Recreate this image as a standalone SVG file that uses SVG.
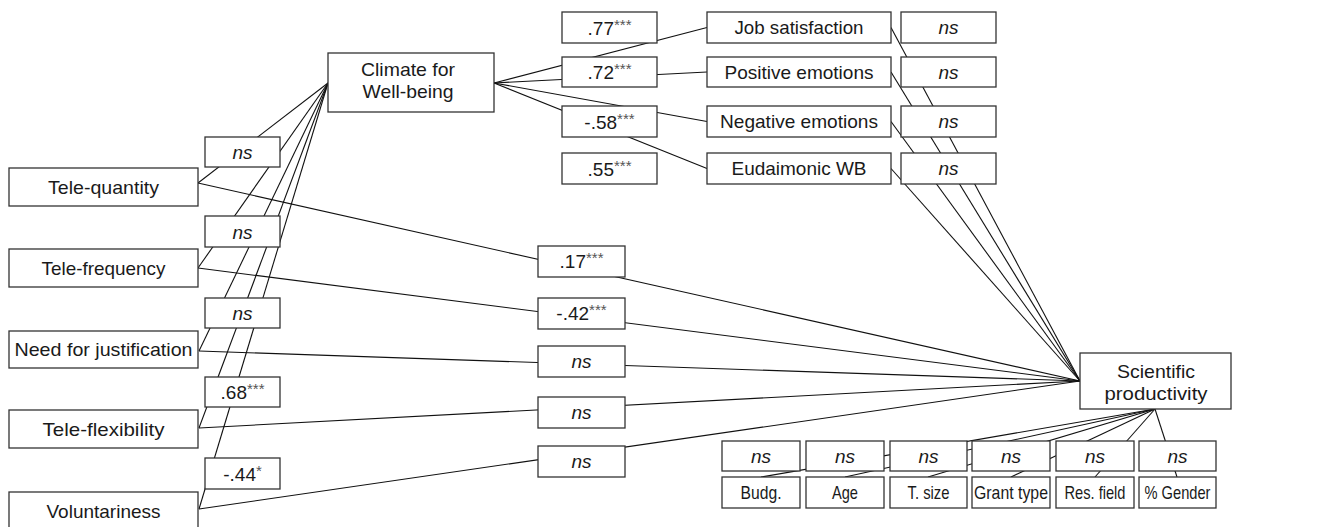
<svg xmlns="http://www.w3.org/2000/svg" width="1338" height="527" viewBox="0 0 1338 527">
<style>
  .box { fill: #fff; stroke: #333; stroke-width: 1.3; }
  .ln { stroke: #111; stroke-width: 1.1; fill: none; }
  text { font-family: "Liberation Sans", Arial, sans-serif; font-size: 19px; fill: #1a1a1a; text-anchor: middle; }
  .ns { font-style: italic; }
  .st { font-size: 15px; fill: #555; }
</style>
<rect width="1338" height="527" fill="#fff"/>
<g id="connectors">
  <line class="ln" x1="328" y1="83" x2="198" y2="183"/>
  <line class="ln" x1="328" y1="83" x2="198" y2="268"/>
  <line class="ln" x1="328" y1="83" x2="199" y2="351"/>
  <line class="ln" x1="328" y1="83" x2="199" y2="428"/>
  <line class="ln" x1="328" y1="83" x2="199" y2="509"/>
  <line class="ln" x1="494" y1="83" x2="707" y2="27.5"/>
  <line class="ln" x1="494" y1="83" x2="707" y2="72"/>
  <line class="ln" x1="494" y1="83" x2="707" y2="121.5"/>
  <line class="ln" x1="494" y1="83" x2="707" y2="168.5"/>
  <line class="ln" x1="891" y1="27.5" x2="1080" y2="381"/>
  <line class="ln" x1="891" y1="72" x2="1080" y2="381"/>
  <line class="ln" x1="891" y1="121.5" x2="1080" y2="381"/>
  <line class="ln" x1="891" y1="168.5" x2="1080" y2="381"/>
  <line class="ln" x1="198" y1="183" x2="1080" y2="381"/>
  <line class="ln" x1="198" y1="268" x2="1080" y2="381"/>
  <line class="ln" x1="199" y1="351" x2="1080" y2="381"/>
  <line class="ln" x1="199" y1="428" x2="1080" y2="381"/>
  <line class="ln" x1="199" y1="509" x2="1080" y2="381"/>
  <line class="ln" x1="1155" y1="409" x2="761" y2="477"/>
  <line class="ln" x1="1155" y1="409" x2="845" y2="477"/>
  <line class="ln" x1="1155" y1="409" x2="928" y2="477"/>
  <line class="ln" x1="1155" y1="409" x2="1011" y2="477"/>
  <line class="ln" x1="1155" y1="409" x2="1095" y2="477"/>
  <line class="ln" x1="1155" y1="409" x2="1177" y2="477"/>
</g>

<g id="n-tele-quantity"><rect class="box" x="9" y="168" width="189" height="38"/><text x="103.5" y="194" textLength="111" lengthAdjust="spacingAndGlyphs">Tele-quantity</text></g>
<g id="n-tele-frequency"><rect class="box" x="9" y="249" width="189" height="38"/><text x="103.5" y="275" textLength="124" lengthAdjust="spacingAndGlyphs">Tele-frequency</text></g>
<g id="n-need-justification"><rect class="box" x="9" y="331" width="189" height="37"/><text x="103.5" y="356" textLength="178" lengthAdjust="spacingAndGlyphs">Need for justification</text></g>
<g id="n-tele-flexibility"><rect class="box" x="9" y="410" width="189" height="38"/><text x="103.5" y="436" textLength="122" lengthAdjust="spacingAndGlyphs">Tele-flexibility</text></g>
<g id="n-voluntariness"><rect class="box" x="9" y="492" width="189" height="38"/><text x="103.5" y="518" textLength="114" lengthAdjust="spacingAndGlyphs">Voluntariness</text></g>

<g id="n-climate"><rect class="box" x="328" y="53" width="166" height="59"/><text x="408" y="76" textLength="94" lengthAdjust="spacingAndGlyphs">Climate for</text><text x="408" y="98" textLength="91" lengthAdjust="spacingAndGlyphs">Well-being</text></g>

<g id="l-ns1"><rect class="box" x="205" y="137" width="75" height="30"/><text class="ns" x="242.5" y="159">ns</text></g>
<g id="l-ns2"><rect class="box" x="205" y="216" width="75" height="31"/><text class="ns" x="242.5" y="239">ns</text></g>
<g id="l-ns3"><rect class="box" x="205" y="298" width="75" height="30"/><text class="ns" x="242.5" y="320">ns</text></g>
<g id="l-68"><rect class="box" x="205" y="377" width="75" height="30"/><text x="242.5" y="399">.68<tspan class="st" dy="-5">***</tspan></text></g>
<g id="l-44"><rect class="box" x="205" y="458" width="75" height="31"/><text x="242.5" y="481">-.44<tspan class="st" dy="-5">*</tspan></text></g>

<g id="l-77"><rect class="box" x="562" y="12" width="95" height="31"/><text x="609.5" y="35">.77<tspan class="st" dy="-5">***</tspan></text></g>
<g id="l-72"><rect class="box" x="562" y="57" width="95" height="30"/><text x="609.5" y="79">.72<tspan class="st" dy="-5">***</tspan></text></g>
<g id="l-58"><rect class="box" x="562" y="106" width="95" height="31"/><text x="609.5" y="129">-.58<tspan class="st" dy="-5">***</tspan></text></g>
<g id="l-55"><rect class="box" x="562" y="153" width="95" height="31"/><text x="609.5" y="176">.55<tspan class="st" dy="-5">***</tspan></text></g>

<g id="n-job"><rect class="box" x="707" y="12" width="184" height="31"/><text x="799" y="34" textLength="129" lengthAdjust="spacingAndGlyphs">Job satisfaction</text></g>
<g id="n-pos"><rect class="box" x="707" y="57" width="184" height="30"/><text x="799" y="79" textLength="149" lengthAdjust="spacingAndGlyphs">Positive emotions</text></g>
<g id="n-neg"><rect class="box" x="707" y="106" width="184" height="31"/><text x="799" y="128" textLength="158" lengthAdjust="spacingAndGlyphs">Negative emotions</text></g>
<g id="n-eud"><rect class="box" x="707" y="153" width="184" height="31"/><text x="799" y="175" textLength="135" lengthAdjust="spacingAndGlyphs">Eudaimonic WB</text></g>

<g id="l-o1"><rect class="box" x="901" y="12" width="95" height="31"/><text class="ns" x="948.5" y="34">ns</text></g>
<g id="l-o2"><rect class="box" x="901" y="57" width="95" height="30"/><text class="ns" x="948.5" y="79">ns</text></g>
<g id="l-o3"><rect class="box" x="901" y="106" width="95" height="31"/><text class="ns" x="948.5" y="128">ns</text></g>
<g id="l-o4"><rect class="box" x="901" y="153" width="95" height="31"/><text class="ns" x="948.5" y="175">ns</text></g>

<g id="l-17"><rect class="box" x="538" y="246" width="87" height="31"/><text x="581.5" y="268">.17<tspan class="st" dy="-5">***</tspan></text></g>
<g id="l-42"><rect class="box" x="538" y="298" width="87" height="31"/><text x="581.5" y="320">-.42<tspan class="st" dy="-5">***</tspan></text></g>
<g id="l-m3"><rect class="box" x="538" y="346" width="87" height="31"/><text class="ns" x="581.5" y="368">ns</text></g>
<g id="l-m4"><rect class="box" x="538" y="397" width="87" height="31"/><text class="ns" x="581.5" y="419">ns</text></g>
<g id="l-m5"><rect class="box" x="538" y="446" width="87" height="31"/><text class="ns" x="581.5" y="468">ns</text></g>

<g id="n-prod"><rect class="box" x="1080" y="353" width="151" height="56"/><text x="1156" y="378" textLength="78" lengthAdjust="spacingAndGlyphs">Scientific</text><text x="1156" y="400" textLength="103" lengthAdjust="spacingAndGlyphs">productivity</text></g>

<g id="l-c1"><rect class="box" x="722" y="441" width="78" height="30"/><text class="ns" x="761" y="463">ns</text></g>
<g id="l-c2"><rect class="box" x="806" y="441" width="78" height="30"/><text class="ns" x="845" y="463">ns</text></g>
<g id="l-c3"><rect class="box" x="890" y="441" width="77" height="30"/><text class="ns" x="928.5" y="463">ns</text></g>
<g id="l-c4"><rect class="box" x="972" y="441" width="78" height="30"/><text class="ns" x="1011" y="463">ns</text></g>
<g id="l-c5"><rect class="box" x="1056" y="441" width="78" height="30"/><text class="ns" x="1095" y="463">ns</text></g>
<g id="l-c6"><rect class="box" x="1139" y="441" width="77" height="30"/><text class="ns" x="1177.5" y="463">ns</text></g>

<g id="n-budg"><rect class="box" x="722" y="477" width="78" height="31"/><text x="761" y="499" textLength="41" lengthAdjust="spacingAndGlyphs">Budg.</text></g>
<g id="n-age"><rect class="box" x="806" y="477" width="78" height="31"/><text x="845" y="499" textLength="26" lengthAdjust="spacingAndGlyphs">Age</text></g>
<g id="n-tsize"><rect class="box" x="890" y="477" width="77" height="31"/><text x="928.5" y="499" textLength="42" lengthAdjust="spacingAndGlyphs">T. size</text></g>
<g id="n-grant"><rect class="box" x="972" y="477" width="78" height="31"/><text x="1011" y="499" textLength="74" lengthAdjust="spacingAndGlyphs">Grant type</text></g>
<g id="n-field"><rect class="box" x="1056" y="477" width="78" height="31"/><text x="1095" y="499" textLength="61" lengthAdjust="spacingAndGlyphs">Res. field</text></g>
<g id="n-gender"><rect class="box" x="1139" y="477" width="77" height="31"/><text x="1177.5" y="499" textLength="66" lengthAdjust="spacingAndGlyphs">% Gender</text></g>
</svg>
